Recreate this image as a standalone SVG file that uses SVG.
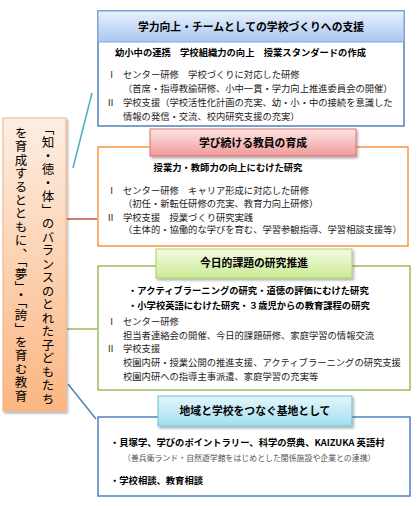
<svg xmlns="http://www.w3.org/2000/svg" width="420" height="506" viewBox="0 0 420 506">
<defs>
<linearGradient id="gBlue" x1="0" y1="0" x2="0" y2="1"><stop offset="0" stop-color="#eaf1fc"/><stop offset="1" stop-color="#a9c7f0"/></linearGradient>
<linearGradient id="gRed" x1="0" y1="0" x2="0" y2="1"><stop offset="0" stop-color="#fde4e4"/><stop offset="1" stop-color="#f09a9a"/></linearGradient>
<linearGradient id="gGreen" x1="0" y1="0" x2="0" y2="1"><stop offset="0" stop-color="#f4fbe2"/><stop offset="1" stop-color="#cbeb94"/></linearGradient>
<linearGradient id="gCyan" x1="0" y1="0" x2="0" y2="1"><stop offset="0" stop-color="#e4f6fb"/><stop offset="1" stop-color="#a3def0"/></linearGradient>
<linearGradient id="gPeach" x1="0" y1="0" x2="0" y2="1"><stop offset="0" stop-color="#fdeee2"/><stop offset="1" stop-color="#fbb682"/></linearGradient>
<filter id="sh" x="-10%" y="-10%" width="125%" height="140%"><feDropShadow dx="1.5" dy="2" stdDeviation="1.2" flood-color="#000" flood-opacity="0.3"/></filter>
</defs>
<style>
text{font-family:"Noto Sans CJK JP","Noto Sans",sans-serif;fill:#222;}
.b{font-size:9.3px;}
.n{font-size:9.3px;font-family:"Liberation Serif","Noto Sans CJK JP",serif;}
.bb{font-size:9.3px;font-weight:bold;fill:#000;}
.h{font-size:10.8px;font-weight:bold;fill:#000;text-anchor:middle;}
.s{font-size:7.9px;fill:#555;}
.v{font-size:12.5px;writing-mode:vertical-rl;fill:#000;}
.box{fill:#fff;stroke-width:1.5;}
line{stroke-width:1.5;}
</style>
<g id="connectors">
<line x1="92" y1="93" x2="73" y2="168" stroke="#4bacc6"/>
<line x1="67" y1="219" x2="97" y2="219" stroke="#c0504d"/>
<line x1="67" y1="329" x2="97" y2="329" stroke="#9bbb59"/>
<line x1="68" y1="384" x2="96" y2="419" stroke="#4f81bd"/>
</g>
<g id="left">
<rect x="3" y="118" width="63" height="293" fill="url(#gPeach)" stroke="#f4b183" stroke-width="1" filter="url(#sh)"/>
<text class="v" x="48" y="123" textLength="282" lengthAdjust="spacing">「知・徳・体」のバランスのとれた子どもたち</text>
<text class="v" x="21" y="127" textLength="275" lengthAdjust="spacing">を育成するとともに、「夢」・「誇」を育む教育</text>
</g>
<g id="box1">
<rect class="box" x="98" y="11" width="306" height="115" stroke="#4f81bd"/>
<rect x="98" y="11" width="306" height="31" fill="url(#gBlue)" stroke="#7fa6dc" stroke-width="1"/>
<text class="h" x="251" y="31">学力向上・チームとしての学校づくりへの支援</text>
<text class="bb" x="240.5" y="55.5" text-anchor="middle">幼小中の連携　学校組織力の向上　授業スタンダードの作成</text>
<text class="n" x="107" y="77.5">Ⅰ</text>
<text class="b" x="123" y="77.5">センター研修　学校づくりに対応した研修</text>
<text class="b" x="123" y="92">（首席・指導教諭研修、小中一貫・学力向上推進委員会の開催）</text>
<text class="n" x="106" y="105.5">Ⅱ</text>
<text class="b" x="123" y="105.5">学校支援（学校活性化計画の充実、幼・小・中の接続を意識した</text>
<text class="b" x="123" y="120">情報の発信・交流、校内研究支援の充実）</text>
</g>
<g id="box2">
<rect class="box" x="98" y="147" width="310" height="99" stroke="#f79646"/>
<rect x="150" y="129" width="206" height="27" fill="url(#gRed)" stroke="#d9716e" stroke-width="1" filter="url(#sh)"/>
<text class="h" x="253" y="147">学び続ける教員の育成</text>
<text class="bb" x="228" y="170.5" text-anchor="middle">授業力・教師力の向上にむけた研究</text>
<text class="n" x="107" y="194">Ⅰ</text>
<text class="b" x="123" y="194">センター研修　キャリア形成に対応した研修</text>
<text class="b" x="123" y="206.5">（初任・新転任研修の充実、教育力向上研修）</text>
<text class="n" x="106" y="220.5">Ⅱ</text>
<text class="b" x="123" y="220.5">学校支援　授業づくり研究実践</text>
<text class="b" x="123" y="233">（主体的・協働的な学びを育む、学習参観指導、学習相談支援等）</text>
</g>
<g id="box3">
<rect class="box" x="98" y="266" width="312" height="124" stroke="#9bbb59"/>
<rect x="156" y="249" width="196" height="29" fill="url(#gGreen)" stroke="#a9cf6a" stroke-width="1" filter="url(#sh)"/>
<text class="h" x="254" y="267">今日的課題の研究推進</text>
<text class="bb" x="128" y="293.5">・アクティブラーニングの研究・道徳の評価にむけた研究</text>
<text class="bb" x="128" y="308.5">・小学校英語にむけた研究・３歳児からの教育課程の研究</text>
<text class="n" x="107" y="325">Ⅰ</text>
<text class="b" x="123" y="325">センター研修</text>
<text class="b" x="123" y="338.5">担当者連絡会の開催、今日的課題研修、家庭学習の情報交流</text>
<text class="n" x="106" y="352">Ⅱ</text>
<text class="b" x="123" y="352">学校支援</text>
<text class="b" x="123" y="366">校園内研・授業公開の推進支援、アクティブラーニングの研究支援</text>
<text class="b" x="123" y="379.5">校園内研への指導主事派遣、家庭学習の充実等</text>
</g>
<g id="box4">
<rect class="box" x="98" y="417" width="312" height="79" stroke="#4f81bd"/>
<rect x="158" y="396" width="194" height="30" fill="url(#gCyan)" stroke="#6cc0d8" stroke-width="1" filter="url(#sh)"/>
<text class="h" x="255" y="415">地域と学校をつなぐ基地として</text>
<text class="bb" x="110" y="445.5">・貝塚学、学びのポイントラリー、科学の祭典、KAIZUKA 英語村</text>
<text class="s" x="123" y="461">（善兵衛ランド・自然遊学館をはじめとした関係施設や企業との連携）</text>
<text class="bb" x="110" y="483.5">・学校相談、教育相談</text>
</g>
</svg>
